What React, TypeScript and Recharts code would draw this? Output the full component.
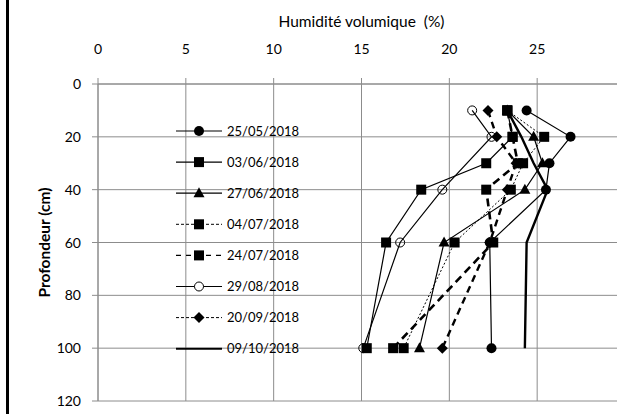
import React from 'react';
import { LineChart, Line, XAxis, YAxis, CartesianGrid } from 'recharts';

// Depths (cm) at which soil moisture was measured
const depths = [10, 20, 30, 40, 60, 100];

// Volumetric moisture (%) per survey date, one value per depth
const s25_05 = [24.4, 26.9, 25.7, 25.5, 22.3, 22.4];
const s03_06 = [23.3, 23.6, 22.1, 18.4, 16.4, 15.3];
const s27_06 = [23.3, 24.8, 25.3, 24.3, 19.7, 18.3];
const s04_07 = [23.3, 25.4, 24.2, 23.5, 20.3, 17.4];
const s24_07 = [23.3, 23.6, 23.9, 22.1, 22.5, 16.8];
const s29_08 = [21.3, 22.4, null, 19.6, 17.2, 15.1];
const s20_09 = [22.2, 22.7, 23.8, 23.3, 22.3, 19.6];
const s09_10 = [23.3, 24.1, 24.8, 25.6, 24.4, 24.3];

const xTicks = [0, 5, 10, 15, 20, 25];
const yTicks = [0, 20, 40, 60, 80, 100, 120];

type Marker = 'circle' | 'square' | 'triangle' | 'diamond' | 'open' | 'none';

interface SeriesDef {
  key: string;
  label: string;
  values: (number | null)[];
  marker: Marker;
  width: number;
  dash?: string;
  legendWidth: number;
  legendDash?: string;
}

const series: SeriesDef[] = [
  { key: 'a', label: '25/05/2018', values: s25_05, marker: 'circle', width: 1.2, legendWidth: 1.2 },
  { key: 'b', label: '03/06/2018', values: s03_06, marker: 'square', width: 1.2, legendWidth: 1.2 },
  { key: 'c', label: '27/06/2018', values: s27_06, marker: 'triangle', width: 1.2, legendWidth: 1.2 },
  { key: 'd', label: '04/07/2018', values: s04_07, marker: 'square', width: 1, dash: '2 2', legendWidth: 1, legendDash: '3 2' },
  { key: 'e', label: '24/07/2018', values: s24_07, marker: 'square', width: 2.6, dash: '8 5', legendWidth: 1.4, legendDash: '5 5' },
  { key: 'f', label: '29/08/2018', values: s29_08, marker: 'open', width: 1.2, legendWidth: 1.2 },
  { key: 'g', label: '20/09/2018', values: s20_09, marker: 'diamond', width: 2.4, dash: '7 5', legendWidth: 1, legendDash: '3 2' },
  { key: 'h', label: '09/10/2018', values: s09_10, marker: 'none', width: 2.4, legendWidth: 2 },
];

const rows = depths.map((depth, i) => {
  const row: Record<string, number | null> = { depth };
  series.forEach((s) => {
    row[s.key] = s.values[i];
  });
  return row;
});

const FONT = 'Lato, "Open Sans", sans-serif';
const GRID = '#8c8c8c';

function markerShape(marker: Marker, cx: number, cy: number, key?: string) {
  switch (marker) {
    case 'circle':
      return <circle key={key} cx={cx} cy={cy} r={5} fill="#000" />;
    case 'open':
      return <circle key={key} cx={cx} cy={cy} r={4.5} fill="none" stroke="#000" strokeWidth={1} />;
    case 'square':
      return <rect key={key} x={cx - 5} y={cy - 5} width={10} height={10} fill="#000" />;
    case 'triangle':
      return (
        <polygon
          key={key}
          points={`${cx},${cy - 6} ${cx + 5.5},${cy + 4} ${cx - 5.5},${cy + 4}`}
          fill="#000"
        />
      );
    case 'diamond':
      return (
        <polygon
          key={key}
          points={`${cx},${cy - 5.5} ${cx + 5.5},${cy} ${cx},${cy + 5.5} ${cx - 5.5},${cy}`}
          fill="#000"
        />
      );
    default:
      return <g key={key} />;
  }
}

const makeDot = (s: SeriesDef) => (props: any) => {
  const { cx, cy, index } = props;
  const k = `${s.key}-${index}`;
  if (cx == null || cy == null || s.marker === 'none') return <g key={k} />;
  return markerShape(s.marker, cx, cy, k);
};

const XTick = (props: any) => {
  const { x, y, payload } = props;
  // y is the text anchor above the axis line (tickSize + tickMargin)
  const axisY = y + 8;
  return (
    <g>
      <line x1={x} y1={axisY - 6} x2={x} y2={axisY} stroke={GRID} strokeWidth={1} />
      <text x={x} y={axisY - 30} textAnchor="middle" fontFamily={FONT} fontSize={14} fill="#000">
        {payload.value}
      </text>
    </g>
  );
};

const YTick = (props: any) => {
  const { x, y, payload } = props;
  const axisX = x + 8;
  return (
    <g>
      <line x1={axisX - 6} y1={y} x2={axisX} y2={y} stroke={GRID} strokeWidth={1} />
      <text x={axisX - 17} y={y + 5} textAnchor="end" fontFamily={FONT} fontSize={14} fill="#000">
        {payload.value}
      </text>
    </g>
  );
};

const XTitle = (props: any) => {
  const vb = props.viewBox;
  return (
    <text
      x={vb.x + vb.width / 2}
      y={vb.y - 27}
      textAnchor="middle"
      fontFamily={FONT}
      fontSize={15.5}
      fill="#000"
      style={{ whiteSpace: 'pre' }}
    >
      {'Humidité volumique  (%)'}
    </text>
  );
};

const YTitle = (props: any) => {
  const vb = props.viewBox;
  const cx = vb.x - 14;
  const cy = vb.y + vb.height / 2;
  return (
    <text
      x={cx}
      y={cy}
      transform={`rotate(-90 ${cx} ${cy})`}
      textAnchor="middle"
      dominantBaseline="central"
      fontFamily={FONT}
      fontSize={15.5}
      fontWeight="bold"
      fill="#000"
    >
      Profondeur (cm)
    </text>
  );
};

function LegendBox() {
  const rowH = 31.1;
  return (
    <svg
      width={150}
      height={250}
      style={{ position: 'absolute', left: 170, top: 116, overflow: 'visible' }}
    >
      {series.map((s, i) => {
        const cy = 15 + i * rowH;
        return (
          <g key={s.key}>
            <line
              x1={6}
              y1={cy}
              x2={52}
              y2={cy}
              stroke="#000"
              strokeWidth={s.legendWidth}
              strokeDasharray={s.legendDash}
            />
            {s.marker === 'open' ? (
              <circle cx={29} cy={cy} r={4.5} fill="#fff" stroke="#000" strokeWidth={1} />
            ) : (
              markerShape(s.marker, 29, cy)
            )}
            <text x={57} y={cy + 4.5} fontFamily={FONT} fontSize={13} fill="#000">
              {s.label}
            </text>
          </g>
        );
      })}
    </svg>
  );
}

export default function App() {
  return (
    <div
      style={{
        position: 'fixed',
        left: 0,
        top: 0,
        width: 617,
        height: 414,
        overflow: 'hidden',
        background: '#fff',
      }}
    >
      <div style={{ position: 'absolute', left: 6, top: 0, width: 3, height: 414, background: '#000' }} />
      <div style={{ position: 'absolute', left: 0, top: 0 }}>
        <LineChart
          width={640}
          height={414}
          data={rows}
          layout="vertical"
          margin={{ top: 54, right: 15, bottom: 13, left: 58 }}
        >
          <CartesianGrid stroke={GRID} strokeWidth={1} />
          <XAxis
            type="number"
            orientation="top"
            domain={[0, 30]}
            ticks={xTicks}
            height={30}
            axisLine={{ stroke: GRID }}
            tickLine={false}
            tick={<XTick />}
            interval={0}
            label={<XTitle />}
          />
          <YAxis
            type="number"
            dataKey="depth"
            domain={[0, 120]}
            ticks={yTicks}
            width={40}
            axisLine={{ stroke: GRID }}
            tickLine={false}
            tick={<YTick />}
            interval={0}
            label={<YTitle />}
          />
          {series.map((s) => (
            <Line
              key={s.key}
              dataKey={s.key}
              name={s.label}
              type="linear"
              stroke="#000"
              strokeWidth={s.width}
              strokeDasharray={s.dash}
              dot={makeDot(s)}
              activeDot={false}
              connectNulls
              isAnimationActive={false}
            />
          ))}
        </LineChart>
      </div>
      <LegendBox />
    </div>
  );
}
